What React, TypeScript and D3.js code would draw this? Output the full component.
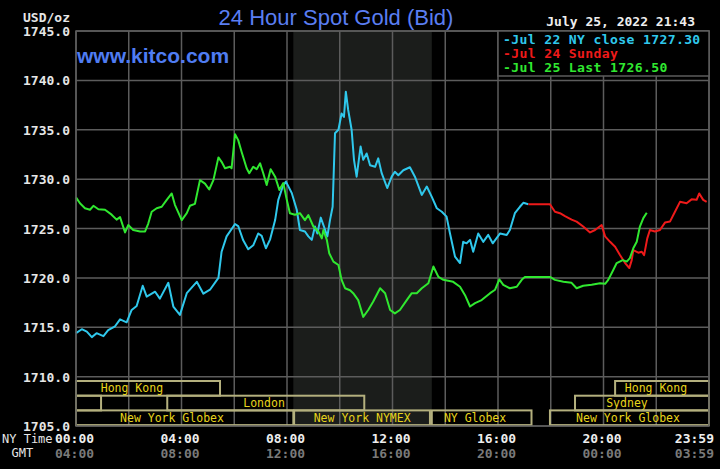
import React from "react";
import * as d3 from "d3";

// ---- data (NY time in hours, price in USD/oz) ----
const jul22Close: [number, number][] = [
  [0.0, 1714.4], [0.22, 1714.8], [0.41, 1714.55], [0.6, 1714.0], [0.78, 1714.4], [1.04, 1714.1],
  [1.22, 1714.7], [1.48, 1715.1], [1.67, 1715.8], [1.92, 1715.5], [2.11, 1716.75], [2.3, 1717.15],
  [2.53, 1719.2], [2.68, 1718.1], [3.0, 1718.6], [3.18, 1717.9], [3.5, 1719.5], [3.69, 1717.1],
  [3.94, 1716.25], [4.2, 1718.45], [4.58, 1719.6], [4.83, 1718.4], [5.08, 1718.8], [5.4, 1720.0],
  [5.52, 1722.65], [5.71, 1724.2], [6.03, 1725.45], [6.15, 1725.25], [6.34, 1723.8], [6.53, 1722.9],
  [6.72, 1723.3], [6.91, 1724.5], [7.04, 1724.25], [7.2, 1723.0], [7.36, 1723.9], [7.55, 1725.85],
  [7.67, 1727.9], [7.84, 1729.25], [7.96, 1729.75], [8.18, 1728.6], [8.37, 1726.9], [8.49, 1724.85],
  [8.68, 1724.7], [8.81, 1724.2], [8.94, 1723.85], [9.06, 1725.2], [9.15, 1724.5], [9.28, 1726.1],
  [9.4, 1725.2], [9.53, 1724.2], [9.63, 1725.85], [9.73, 1727.2], [9.82, 1734.65], [9.95, 1735.0],
  [10.07, 1736.65], [10.16, 1736.3], [10.23, 1738.85], [10.32, 1737.0], [10.45, 1735.0], [10.54, 1731.95],
  [10.64, 1730.25], [10.79, 1733.3], [10.89, 1731.95], [11.02, 1732.6], [11.15, 1731.4], [11.34, 1731.25],
  [11.46, 1732.1], [11.59, 1730.6], [11.8, 1729.1], [11.97, 1730.25], [12.09, 1730.75], [12.22, 1730.4],
  [12.41, 1730.9], [12.66, 1731.2], [12.85, 1730.25], [13.11, 1728.4], [13.3, 1729.25], [13.49, 1728.2],
  [13.68, 1727.05], [13.87, 1726.7], [14.05, 1726.2], [14.18, 1724.5], [14.37, 1722.15], [14.56, 1721.5],
  [14.68, 1723.65], [14.81, 1723.5], [14.94, 1723.85], [15.06, 1722.65], [15.25, 1724.5], [15.44, 1723.65],
  [15.63, 1724.35], [15.8, 1723.5], [16.08, 1724.5], [16.33, 1724.35], [16.45, 1724.85], [16.64, 1726.55],
  [16.83, 1727.2], [16.96, 1727.6], [17.15, 1727.45],
];

const jul24Sunday: [number, number][] = [
  [17.15, 1727.45], [17.97, 1727.45], [18.16, 1726.7], [18.35, 1726.55], [18.54, 1726.25], [18.79, 1725.9],
  [18.98, 1725.7], [19.23, 1725.2], [19.49, 1724.6], [19.68, 1724.85], [19.93, 1725.35], [20.06, 1724.2],
  [20.25, 1723.65], [20.44, 1723.15], [20.63, 1722.3], [20.82, 1721.5], [20.98, 1721.0], [21.07, 1721.8],
  [21.13, 1722.8], [21.32, 1722.55], [21.45, 1722.65], [21.54, 1722.3], [21.66, 1724.0], [21.76, 1724.85],
  [21.95, 1724.7], [22.14, 1724.85], [22.33, 1725.6], [22.52, 1725.7], [22.71, 1726.7], [22.9, 1727.7],
  [23.15, 1727.55], [23.34, 1727.95], [23.53, 1727.9], [23.63, 1728.55], [23.78, 1727.9], [23.91, 1727.7],
];

const jul25Last: [number, number][] = [
  [0.0, 1728.15], [0.15, 1727.55], [0.34, 1727.05], [0.53, 1726.9], [0.66, 1727.3], [0.85, 1726.95],
  [1.1, 1726.9], [1.35, 1726.4], [1.54, 1725.9], [1.67, 1726.15], [1.86, 1724.6], [1.98, 1725.35],
  [2.17, 1724.85], [2.43, 1724.7], [2.62, 1724.7], [2.74, 1725.5], [2.87, 1726.7], [3.06, 1727.05],
  [3.25, 1727.2], [3.44, 1727.9], [3.63, 1728.55], [3.75, 1727.4], [4.01, 1725.85], [4.2, 1726.55],
  [4.32, 1727.3], [4.51, 1727.5], [4.7, 1729.9], [4.89, 1729.55], [5.05, 1728.95], [5.21, 1729.9],
  [5.4, 1732.2], [5.52, 1731.75], [5.65, 1731.1], [5.84, 1731.25], [5.9, 1731.1], [6.03, 1734.55],
  [6.15, 1733.95], [6.28, 1732.75], [6.47, 1731.1], [6.57, 1730.6], [6.72, 1731.25], [6.85, 1731.0],
  [6.98, 1731.6], [7.1, 1730.6], [7.23, 1729.4], [7.38, 1731.0], [7.55, 1730.25], [7.71, 1728.9],
  [7.86, 1729.6], [7.98, 1728.05], [8.11, 1726.55], [8.3, 1726.4], [8.49, 1726.55], [8.68, 1725.85],
  [8.81, 1726.35], [9.0, 1725.2], [9.19, 1724.7], [9.32, 1724.0], [9.38, 1724.85], [9.51, 1723.85],
  [9.6, 1722.5], [9.76, 1721.65], [9.95, 1721.3], [10.07, 1719.8], [10.2, 1718.95], [10.39, 1718.75],
  [10.51, 1718.45], [10.7, 1717.75], [10.89, 1716.05], [11.08, 1716.75], [11.27, 1717.6], [11.53, 1718.95],
  [11.72, 1718.45], [11.91, 1716.75], [12.09, 1716.4], [12.28, 1716.75], [12.54, 1717.75], [12.73, 1718.45],
  [12.92, 1718.45], [13.11, 1718.95], [13.36, 1719.45], [13.55, 1721.15], [13.74, 1720.1], [13.93, 1719.8],
  [14.3, 1719.6], [14.56, 1719.1], [14.75, 1718.25], [14.94, 1717.1], [15.13, 1717.45], [15.38, 1717.75],
  [15.7, 1718.45], [15.89, 1718.8], [16.05, 1719.85], [16.2, 1719.3], [16.45, 1718.95], [16.71, 1719.1],
  [16.9, 1719.8], [17.02, 1720.1], [17.97, 1720.1], [18.16, 1719.8], [18.48, 1719.6], [18.79, 1719.5],
  [18.98, 1718.95], [19.23, 1719.2], [19.55, 1719.3], [19.87, 1719.45], [20.06, 1719.4], [20.18, 1719.8],
  [20.37, 1720.8], [20.5, 1721.5], [20.73, 1721.8], [20.88, 1721.65], [21.0, 1722.0], [21.13, 1723.0],
  [21.26, 1723.65], [21.38, 1725.2], [21.51, 1726.05], [21.64, 1726.6],
];

const yTicks = [1705, 1710, 1715, 1720, 1725, 1730, 1735, 1740, 1745];
const xGridHours = [0, 2, 4, 6, 8, 10, 12, 14, 16, 18, 20, 22, 24];
const xTickHours = [0, 4, 8, 12, 16, 20, 24];
const nyTimeLabels = ["00:00", "04:00", "08:00", "12:00", "16:00", "20:00", "23:59"];
const gmtLabels = ["04:00", "08:00", "12:00", "16:00", "20:00", "00:00", "03:59"];
const nymexShade: [number, number] = [8.24, 13.49];

// sessions: [startHour, endHour, label, labelCenterHour]
const sessionRow0: [number, number, string, number][] = [
  [0, 5.46, "Hong Kong", 2.12],
  [20.44, 24, "Hong Kong", 21.99],
];
const sessionRow1: [number, number, string, number][] = [
  [0, 0.95, "", 0],
  [3.46, 10.93, "London", 7.13],
  [18.92, 24, "Sydney", 20.89],
];
const sessionRow2: [number, number, string, number][] = [
  [0, 8.24, "New York Globex", 3.64],
  [8.27, 13.42, "New York NYMEX", 10.85],
  [13.49, 17.27, "NY Globex", 15.13],
  [17.97, 24, "New York Globex", 20.93],
];

const legendItems = [
  { text: "-Jul 22 NY close 1727.30", color: "#2fc8ec" },
  { text: "-Jul 24 Sunday", color: "#ee1a1a" },
  { text: "-Jul 25 Last 1726.50", color: "#30e830" },
];

const W = 720;
const H = 469;
const MONO = "'DejaVu Sans Mono', monospace";
const SANS = "'Liberation Sans', Arial, sans-serif";
const GRID = "#5c5c5c";

export default function App() {
  const x = d3.scaleLinear().domain([0, 24]).range([76, 709]);
  const y = d3.scaleLinear().domain([1705, 1745]).range([426, 31]);
  const line = d3
    .line<[number, number]>()
    .x((d) => x(d[0]))
    .y((d) => y(d[1]));

  const rowTop = 381;
  const rowH = 14.7;
  const rows = [sessionRow0, sessionRow1, sessionRow2];

  return (
    <div style={{ position: "fixed", left: 0, top: 0, width: W, height: H, background: "#000" }}>
      <svg width={W} height={H} style={{ display: "block", background: "#000" }}>
        {/* shaded NYMEX window */}
        <rect
          x={x(nymexShade[0])}
          y={y(1745)}
          width={x(nymexShade[1]) - x(nymexShade[0])}
          height={y(1705) - y(1745)}
          fill="#1b1d1b"
        />
        {/* grid */}
        {yTicks.map((t) => (
          <line key={"h" + t} x1={x(0)} x2={x(24)} y1={y(t)} y2={y(t)} stroke={GRID} strokeWidth={1.5} />
        ))}
        {xGridHours.map((h) => (
          <line key={"v" + h} x1={x(h)} x2={x(h)} y1={y(1745)} y2={y(1705)} stroke={GRID} strokeWidth={1.5} />
        ))}
        {/* sessions */}
        {rows.map((row, ri) =>
          row.map(([s, e, label, c], i) => (
            <g key={"s" + ri + "-" + i}>
              <rect
                x={x(s)}
                y={rowTop + ri * rowH}
                width={x(e) - x(s)}
                height={rowH}
                fill="none"
                stroke="#b4b07e"
                strokeWidth={2}
              />
              {label && (
                <text
                  x={x(c)}
                  y={rowTop + ri * rowH + rowH / 2 + 4}
                  textAnchor="middle"
                  fill="#e8d41c"
                  fontFamily={MONO}
                  fontSize={11.5}
                >
                  {label}
                </text>
              )}
            </g>
          ))
        )}
        {/* series */}
        <path d={line(jul22Close) || ""} fill="none" stroke="#2fc8ec" strokeWidth={2} strokeLinejoin="round" />
        <path d={line(jul24Sunday) || ""} fill="none" stroke="#ee1a1a" strokeWidth={2} strokeLinejoin="round" />
        <path d={line(jul25Last) || ""} fill="none" stroke="#30e830" strokeWidth={2} strokeLinejoin="round" />

        {/* y labels */}
        <text x={70} y={22} textAnchor="end" fill="#e6e6e6" fontFamily={MONO} fontSize={13} fontWeight="bold">
          USD/oz
        </text>
        {yTicks.map((t) => (
          <text
            key={"yl" + t}
            x={70}
            y={y(t) + 5}
            textAnchor="end"
            fill="#e6e6e6"
            fontFamily={MONO}
            fontSize={13}
            fontWeight="bold"
          >
            {t.toFixed(1)}
          </text>
        ))}
        {/* x labels */}
        <text x={2} y={443} fill="#e6e6e6" fontFamily={MONO} fontSize={12}>
          NY Time
        </text>
        <text x={11.5} y={457} fill="#e6e6e6" fontFamily={MONO} fontSize={12}>
          GMT
        </text>
        {xTickHours.map((h, i) => (
          <g key={"xl" + h}>
            <text
              x={i === xTickHours.length - 1 ? x(h) + 5 : x(h) - 1.5}
              y={443}
              textAnchor={i === xTickHours.length - 1 ? "end" : "middle"}
              fill="#eeeeee"
              fontFamily={MONO}
              fontSize={13}
              fontWeight="bold"
            >
              {nyTimeLabels[i]}
            </text>
            <text
              x={i === xTickHours.length - 1 ? x(h) + 5 : x(h) - 1.5}
              y={457.5}
              textAnchor={i === xTickHours.length - 1 ? "end" : "middle"}
              fill="#7a7a7a"
              fontFamily={MONO}
              fontSize={13}
              fontWeight="bold"
            >
              {gmtLabels[i]}
            </text>
          </g>
        ))}
        {/* plot border */}
        <rect x={x(0)} y={y(1745)} width={x(24) - x(0)} height={y(1705) - y(1745)} fill="none" stroke={GRID} strokeWidth={1.5} />

        {/* legend */}
        <rect x={498} y={y(1745)} width={x(24) - 498} height={45} fill="#000" stroke={GRID} strokeWidth={1.5} />
        {legendItems.map((it, i) => (
          <text
            key={"lg" + i}
            x={503}
            y={43.5 + i * 14.3}
            fill={it.color}
            fontFamily={MONO}
            fontSize={13.1}
            letterSpacing={0.35}
            fontWeight="bold"
          >
            {it.text}
          </text>
        ))}

        {/* titles */}
        <text x={336} y={25} textAnchor="middle" fill="#5a7ef2" fontFamily={SANS} fontSize={22}>
          24 Hour Spot Gold (Bid)
        </text>
        <text x={77} y={62.5} fill="#4f7cf2" fontFamily={SANS} fontSize={21} fontWeight="bold">
          www.kitco.com
        </text>
        <text x={695} y={26} textAnchor="end" fill="#eeeeee" fontFamily={MONO} fontSize={13} fontWeight="bold">
          July 25, 2022 21:43
        </text>
      </svg>
    </div>
  );
}
